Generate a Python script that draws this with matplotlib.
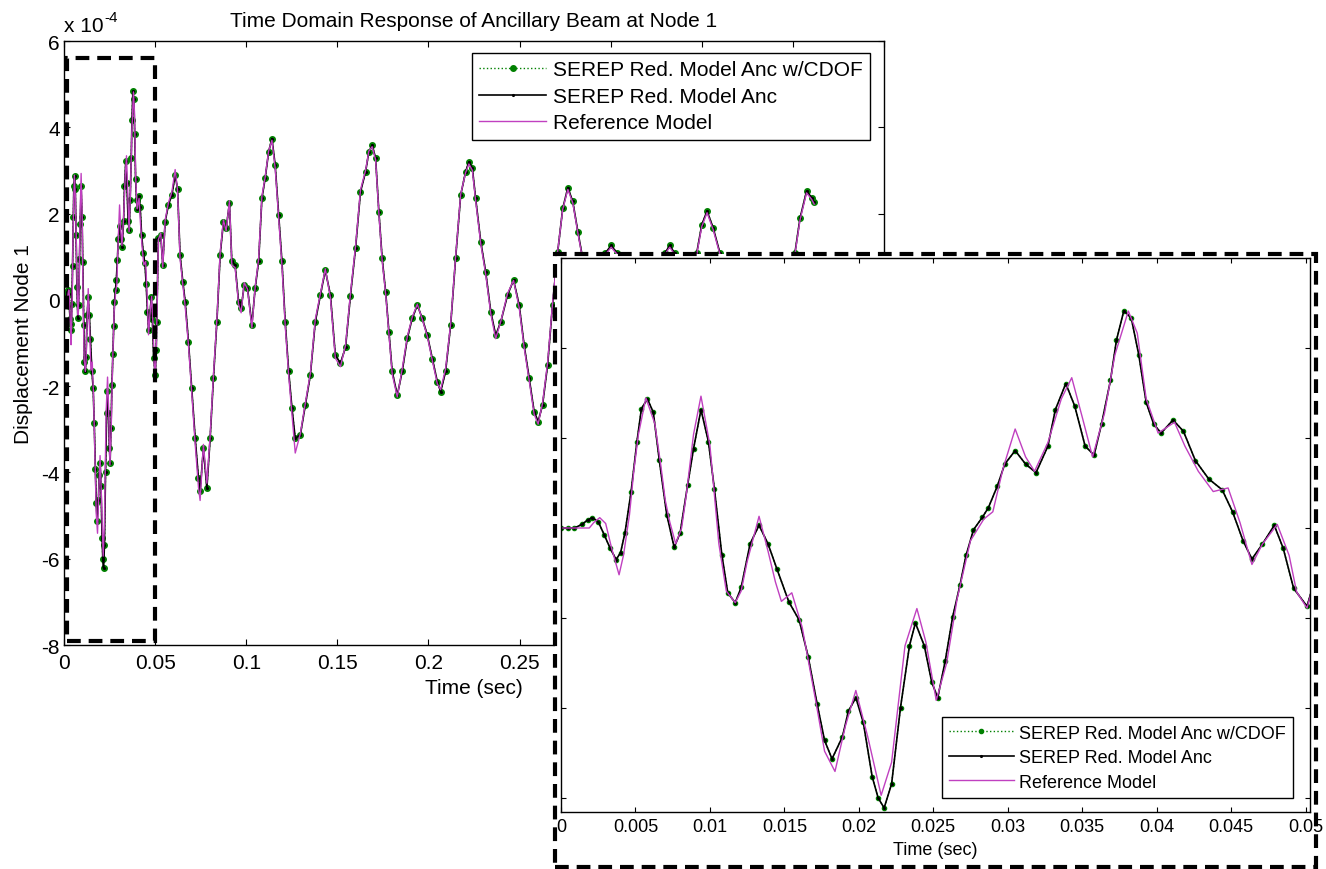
import matplotlib
matplotlib.use("Agg")
import matplotlib.pyplot as plt
import matplotlib.transforms as mtransforms
import numpy as np
from matplotlib.patches import Rectangle

plt.rcParams['font.family'] = ['Liberation Sans', 'DejaVu Sans']
plt.rcParams['axes.unicode_minus'] = False

# displacement values are in units of 1e-4, time in seconds
# SEREP reduced model (0 - 0.05 s)
t_anc_early = [0, 0.0005, 0.0009, 0.0014, 0.0018, 0.0021, 0.0025, 0.0029, 0.0033, 0.0037,
               0.0040, 0.0043, 0.0047, 0.0051, 0.0054, 0.0058, 0.0062, 0.0066, 0.0071, 0.0076,
               0.0080, 0.0085, 0.0089, 0.0094, 0.0099, 0.0103, 0.0108, 0.0112, 0.0117, 0.0121,
               0.0127, 0.0133, 0.0139, 0.0145, 0.0153, 0.0160, 0.0166, 0.0172, 0.0177, 0.0182,
               0.0189, 0.0193, 0.0198, 0.0203, 0.0209, 0.0213, 0.0217, 0.0222, 0.0228, 0.0234,
               0.0238, 0.0244, 0.0249, 0.0253, 0.0258, 0.0263, 0.0268, 0.0272, 0.0277, 0.0283,
               0.0287, 0.0293, 0.0298, 0.0305, 0.0312, 0.0319, 0.0327, 0.0332, 0.0339, 0.0345,
               0.0352, 0.0358, 0.0363, 0.0369, 0.0373, 0.0378, 0.0383, 0.0388, 0.0393, 0.0398,
               0.0403, 0.0411, 0.0418, 0.0426, 0.0435, 0.0444, 0.0451, 0.0458, 0.0464, 0.0471,
               0.0479, 0.0485, 0.0492, 0.0501, 0.0506]
y_anc_early = [0, 0, 0, 0.08, 0.18, 0.23, 0.14, -0.15, -0.45, -0.70,
               -0.55, -0.10, 0.79, 1.92, 2.65, 2.87, 2.57, 1.51, 0.30, -0.43,
               -0.11, 0.95, 1.76, 2.63, 1.92, 0.87, -0.59, -1.44, -1.66, -1.32,
               -0.35, 0.06, -0.35, -0.91, -1.64, -2.05, -2.86, -3.91, -4.72, -5.13,
               -4.64, -4.07, -3.77, -4.32, -5.53, -6.00, -6.22, -5.69, -3.99, -2.62,
               -2.11, -2.62, -3.43, -3.77, -2.96, -1.98, -1.26, -0.61, -0.04, 0.24,
               0.45, 0.93, 1.42, 1.72, 1.42, 1.23, 1.82, 2.63, 3.21, 2.71,
               1.82, 1.62, 2.31, 3.28, 4.17, 4.83, 4.66, 3.85, 2.79, 2.31,
               2.11, 2.40, 2.15, 1.50, 1.09, 0.85, 0.36, -0.28, -0.69, -0.36,
               0.06, -0.45, -1.34, -1.74, -1.17]

# SEREP reduced model (0.05 s onwards)
t_anc_late = [0.0509, 0.0518, 0.0531, 0.0542, 0.0555, 0.0573, 0.0592, 0.0610, 0.0623, 0.0637,
              0.0652, 0.0665, 0.0683, 0.0701, 0.0720, 0.0738, 0.0747, 0.0765, 0.0784, 0.0802,
              0.0820, 0.0839, 0.0857, 0.0875, 0.0890, 0.0908, 0.0921, 0.0939, 0.0958, 0.0972,
              0.0989, 0.1007, 0.1031, 0.1049, 0.1068, 0.1086, 0.1104, 0.1123, 0.1141, 0.1159,
              0.1178, 0.1196, 0.1214, 0.1233, 0.1251, 0.1269, 0.1297, 0.1324, 0.1352, 0.1379,
              0.1407, 0.1434, 0.1462, 0.1489, 0.1517, 0.1545, 0.1572, 0.1600, 0.1627, 0.1655,
              0.1673, 0.1691, 0.1710, 0.1728, 0.1746, 0.1765, 0.1783, 0.1801, 0.1829, 0.1856,
              0.1884, 0.1911, 0.1939, 0.1966, 0.1994, 0.2021, 0.2049, 0.2067, 0.2094, 0.2122,
              0.2149, 0.2177, 0.2204, 0.2222, 0.2241, 0.2259, 0.2287, 0.2314, 0.2342, 0.2369,
              0.2397, 0.2434, 0.2467, 0.2498, 0.2525, 0.2553, 0.2580, 0.2602, 0.2626, 0.2654,
              0.2681, 0.2709, 0.2737, 0.2765, 0.2792, 0.2820, 0.2847, 0.2875, 0.2910, 0.2940,
              0.2970, 0.3003, 0.3036, 0.3070, 0.3110, 0.3150, 0.3190, 0.3230, 0.3265, 0.3297,
              0.3324, 0.3352, 0.3390, 0.3430, 0.3472, 0.3500, 0.3529, 0.3563, 0.3600, 0.3640,
              0.3690, 0.3740, 0.3790, 0.3840, 0.3890, 0.3940, 0.3980, 0.4011, 0.4039, 0.4075,
              0.4103, 0.4117]
y_anc_late = [-0.51, 1.43, 1.50, 0.81, 1.81, 2.20, 2.43, 2.89, 2.58, 1.04,
              0.42, -0.04, -0.97, -2.05, -3.21, -4.14, -4.44, -3.44, -4.37, -3.21,
              -1.82, -0.51, 1.04, 1.81, 1.66, 2.24, 0.89, 0.81, -0.04, -0.20,
              0.34, 0.27, -0.58, 0.27, 0.89, 2.35, 2.82, 3.43, 3.74, 3.12,
              1.97, 0.89, -0.51, -1.66, -2.51, -3.21, -3.13, -2.44, -1.74, -0.51,
              0.11, 0.69, 0.11, -1.28, -1.47, -1.10, 0.10, 1.20, 2.50, 2.97,
              3.43, 3.59, 3.28, 2.04, 0.96, 0.19, -0.74, -1.66, -2.21, -1.66,
              -0.89, -0.43, -0.12, -0.43, -0.82, -1.36, -1.90, -2.13, -1.66, -0.58,
              0.96, 2.43, 2.97, 3.20, 3.05, 2.35, 1.35, 0.65, -0.27, -0.82,
              -0.51, 0.11, 0.46, -0.12, -1.05, -1.82, -2.59, -2.82, -2.44, -1.51,
              -0.12, 1.10, 2.12, 2.60, 2.28, 1.58, 0.95, 0.20, -0.60, -0.20,
              1.08, 1.26, 1.08, 0.20, -1.00, -1.60, -1.20, -0.30, 0.50, 1.08,
              1.26, 1.08, 0.30, 0.40, 1.08, 1.74, 2.06, 1.66, 1.08, 0.10,
              -0.90, -1.50, -1.10, -0.40, -0.60, -0.20, 0.50, 1.08, 1.89, 2.52,
              2.37, 2.26]

# Reference model
t_ref_early = [0, 0.0010, 0.0019, 0.0022, 0.0026, 0.0030, 0.0034, 0.0039, 0.0042, 0.0046,
               0.0049, 0.0052, 0.0057, 0.0063, 0.0067, 0.0070, 0.0073, 0.0077, 0.0081, 0.0084,
               0.0089, 0.0094, 0.0100, 0.0106, 0.0111, 0.0117, 0.0121, 0.0125, 0.0133, 0.0139,
               0.0144, 0.0148, 0.0155, 0.0162, 0.0171, 0.0177, 0.0184, 0.0191, 0.0198, 0.0206,
               0.0215, 0.0222, 0.0231, 0.0239, 0.0245, 0.0252, 0.0259, 0.0266, 0.0275, 0.0284,
               0.0290, 0.0297, 0.0305, 0.0312, 0.0318, 0.0327, 0.0336, 0.0343, 0.0350, 0.0357,
               0.0365, 0.0372, 0.0381, 0.0387, 0.0393, 0.0401, 0.0412, 0.0419, 0.0428, 0.0438,
               0.0448, 0.0456, 0.0464, 0.0471, 0.0481, 0.0489, 0.0494, 0.0501, 0.0506]
y_ref_early = [0, 0, 0, 0.12, 0.23, 0.10, -0.45, -1.04, -0.60, 0.30,
               1.30, 2.08, 2.89, 2.32, 1.40, 0.62, 0.14, -0.35, 0.00, 0.70,
               2.08, 2.93, 1.84, -0.35, -1.40, -1.66, -1.40, -0.75, 0.26, -0.51,
               -1.20, -1.63, -1.44, -2.21, -3.83, -4.96, -5.41, -4.40, -3.61, -4.64,
               -5.94, -5.21, -2.62, -1.79, -2.53, -3.83, -3.00, -1.58, -0.28, 0.20,
               0.36, 1.34, 2.20, 1.58, 1.26, 1.90, 2.87, 3.34, 2.47, 1.58,
               2.55, 3.85, 4.82, 4.33, 2.87, 2.11, 2.35, 1.82, 1.26, 0.81,
               0.89, 0.12, -0.81, -0.36, 0.08, -0.61, -1.42, -1.78, -1.17]

t_ref_late = t_anc_late
y_ref_late = [-0.60, 1.40, 1.55, 0.75, 1.85, 2.25, 2.50, 3.02, 2.55, 0.95,
              0.35, -0.15, -1.05, -2.15, -3.35, -4.35, -4.65, -3.35, -4.25, -3.15,
              -1.75, -0.45, 1.10, 1.85, 1.60, 2.30, 0.80, 0.75, -0.10, -0.30,
              0.40, 0.25, -0.65, 0.30, 0.95, 2.40, 2.85, 3.45, 3.70, 3.05,
              1.90, 0.80, -0.60, -1.75, -2.65, -3.55, -3.10, -2.40, -1.70, -0.45,
              0.15, 0.72, 0.05, -1.35, -1.55, -1.05, 0.15, 1.25, 2.55, 3.00,
              3.45, 3.55, 3.25, 2.00, 0.90, 0.15, -0.80, -1.72, -2.25, -1.60,
              -0.85, -0.40, -0.10, -0.45, -0.85, -1.40, -1.95, -2.08, -1.60, -0.55,
              1.00, 2.45, 2.95, 3.15, 3.00, 2.30, 1.30, 0.60, -0.32, -0.90,
              -0.50, 0.15, 0.45, -0.18, -1.10, -1.88, -2.65, -2.88, -2.40, -1.45,
              -0.08, 1.12, 2.10, 2.56, 2.25, 1.55, 0.92, 0.15, -0.65, -0.22,
              1.05, 1.22, 1.05, 0.15, -1.05, -1.65, -1.25, -0.35, 0.45, 1.05,
              1.22, 1.05, 0.25, 0.38, 1.05, 1.70, 2.02, 1.62, 1.05, 0.05,
              -0.95, -1.55, -1.15, -0.45, -0.65, -0.25, 0.45, 1.05, 1.85, 2.48,
              2.33, 2.22]

labels = ['SEREP Red. Model Anc w/CDOF', 'SEREP Red. Model Anc', 'Reference Model']

t_anc = np.array(t_anc_early + t_anc_late)
y_anc = np.array(y_anc_early + y_anc_late)
t_ref = np.array(t_ref_early + t_ref_late)
y_ref = np.array(y_ref_early + y_ref_late)

green = '#008000'
magenta = '#C040C0'
W, H = 1326, 870


def draw_series(a, ms_green):
    a.plot(t_anc, y_anc, ':', color=green, lw=1, marker='.', ms=ms_green, label=labels[0])
    a.plot(t_anc, y_anc, '-', color='k', lw=1.2, marker='.', ms=2.5, label=labels[1])
    a.plot(t_ref, y_ref, '-', color=magenta, lw=1, label=labels[2])


fig = plt.figure(figsize=(W / 100, H / 100), dpi=100)

# main axes
ax = fig.add_axes([64 / W, 1 - 646 / H, 820 / W, 604 / H], zorder=0)
draw_series(ax, 8)
ax.set_xlim(0, 0.45)
ax.set_ylim(-8, 6)
xt = np.arange(0, 0.4501, 0.05)
ax.set_xticks(xt)
ax.set_xticklabels(['0', '0.05', '0.1', '0.15', '0.2', '0.25', '0.3', '0.35', '0.4', '0.45'])
ax.set_yticks(range(-8, 7, 2))
ax.tick_params(direction='in', top=True, right=True, length=4.5, width=0.8, labelsize=15)
ax.tick_params(axis='x', pad=6)
ax.tick_params(axis='y', pad=3)
for s in ax.spines.values():
    s.set_linewidth(1)
ax.set_title('Time Domain Response of Ancillary Beam at Node 1', fontsize=15, pad=11)
ax.set_xlabel('Time (sec)', fontsize=15)
ax.xaxis.set_label_coords(0.5, -0.055)
ax.set_ylabel('Displacement Node 1', fontsize=15)
ax.yaxis.set_label_coords(-0.038, 0.5)

# MATLAB style exponent label
base_y = 1 + 10 / 604
ax.text(0.0, base_y, 'x 10', transform=ax.transAxes, fontsize=15, ha='left', va='baseline')
sup_tr = mtransforms.offset_copy(ax.transAxes, fig=fig, x=29, y=7, units='points')
ax.text(0.0, base_y, '-4', transform=sup_tr, fontsize=11, ha='left', va='baseline')

leg = ax.legend(loc='upper right', bbox_to_anchor=(0.983, 0.980), fontsize=15,
                fancybox=False, edgecolor='k', framealpha=1, handlelength=3.2,
                handletextpad=0.33, labelspacing=0.36, borderpad=0.35, borderaxespad=0)
leg.get_frame().set_linewidth(1)

# dashed box marking the zoomed window
ax.add_patch(Rectangle((0.0016, -7.9), 0.0485, 13.5, fill=False, ec='k', lw=3,
                       ls=(0, (3.3, 1.9)), zorder=5, clip_on=False))

# white backing and dashed frame for the zoomed inset
fig.add_artist(Rectangle((555 / W, 1 - 868 / H), 761 / W, 613 / H, transform=fig.transFigure,
                         fc='white', ec='none', zorder=1))
fig.add_artist(Rectangle((555 / W, 1 - 868 / H), 761 / W, 613 / H, transform=fig.transFigure,
                         fill=False, ec='k', lw=3, ls=(0, (3.3, 1.9)), zorder=3))

ins = fig.add_axes([561 / W, 1 - 812.5 / H, 749 / W, 553.5 / H], zorder=2)
draw_series(ins, 6)
ins.set_xlim(0, 0.0503)
ins.set_ylim(-6.3, 6.0)
ins.set_xticks(np.arange(0, 0.05001, 0.005))
ins.set_xticklabels(['0', '0.005', '0.01', '0.015', '0.02', '0.025', '0.03', '0.035',
                     '0.04', '0.045', '0.05'])
ins.set_yticks(range(-6, 7, 2))
ins.set_yticklabels([])
ins.tick_params(direction='in', top=True, right=True, length=3.5, width=0.8, labelsize=13,
                pad=4.5)
for s in ins.spines.values():
    s.set_linewidth(1)
ins.set_xlabel('Time (sec)', fontsize=13)
ins.xaxis.set_label_coords(0.5, -0.053)
leg2 = ins.legend(loc='lower right', bbox_to_anchor=(0.977, 0.0244), fontsize=13,
                  fancybox=False, edgecolor='k', framealpha=1, handlelength=3.6,
                  handletextpad=0.28, labelspacing=0.42, borderpad=0.4, borderaxespad=0)
leg2.get_frame().set_linewidth(1)

fig.savefig('out.png', dpi=100)
